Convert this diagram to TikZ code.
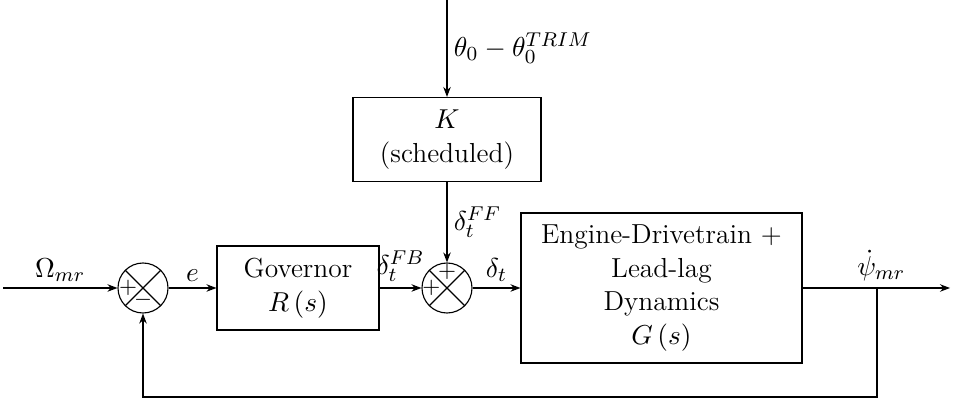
\documentclass[tikz,border=0pt]{standalone}
\usetikzlibrary{arrows.meta}
\begin{document}
\begin{tikzpicture}[x=0.4pt,y=-0.4pt,
  >={Stealth[length=4pt,width=3pt]}, line width=0.45pt,
  every node/.style={font=\fontsize{11}{13.5}\selectfont},
  blk/.style={draw, align=center, inner sep=0pt},
  sumnode/.style={circle, draw, minimum size=20pt, inner sep=0pt,
    path picture={\draw (path picture bounding box.north west) -- (path picture bounding box.south east)
      (path picture bounding box.north east) -- (path picture bounding box.south west);}},
  sgn/.style={inner sep=0pt, font=\fontsize{9.5}{11}\selectfont},
  lbl/.style={inner sep=2.5pt}]
\useasboundingbox (0,0) rectangle (959,404);
\coordinate (top) at (447,0);
\node[blk, minimum width=75.2pt, minimum height=33.6pt] (K) at (447,139.5) {$K$\\(scheduled)};
\node[sumnode] (s1) at (143,288) {};
\node[sumnode] (s2) at (447,288) {};
\node[blk, minimum width=64.8pt, minimum height=33.6pt] (R) at (298,288) {Governor\\$R\,(s)$};
\node[blk, minimum width=112.4pt, minimum height=60pt] (G) at (661.5,288) {Engine-Drivetrain +\\Lead-lag\\Dynamics\\$G\,(s)$};
\node[sgn] (p1) at ([xshift=-6pt]s1.center) {$+$};
\node[sgn] (m1) at ([yshift=-4.6pt]s1.center) {$-$};
\node[sgn] (p2) at ([yshift=6.3pt]s2.center) {$+$};
\node[sgn] (p3) at ([xshift=-6.3pt]s2.center) {$+$};
\coordinate (in) at (3,288);
\coordinate (out) at (950,288);
\coordinate (fb) at (877,288);
\coordinate (fbb) at (877,397);
\draw[->] (top) -- node[right, lbl] {$\theta_0-\theta_0^{TRIM}$} (K);
\draw[->] (K) -- node[right, lbl] {$\delta_t^{FF}$} (s2);
\draw[->] (in) -- node[above, lbl] {$\Omega_{mr}$} (s1);
\draw[->] (s1) -- node[above, lbl] {$e$} (R);
\draw[->] (R) -- node[above, lbl] {$\delta_t^{FB}$} (s2);
\draw[->] (s2) -- node[above, lbl] {$\delta_t$} (G);
\draw[->] (G) -- node[above, lbl, xshift=2pt] {$\dot\psi_{mr}$} (out);
\draw[->] (fb) -- (fbb) -| (s1);
\end{tikzpicture}
\end{document}
